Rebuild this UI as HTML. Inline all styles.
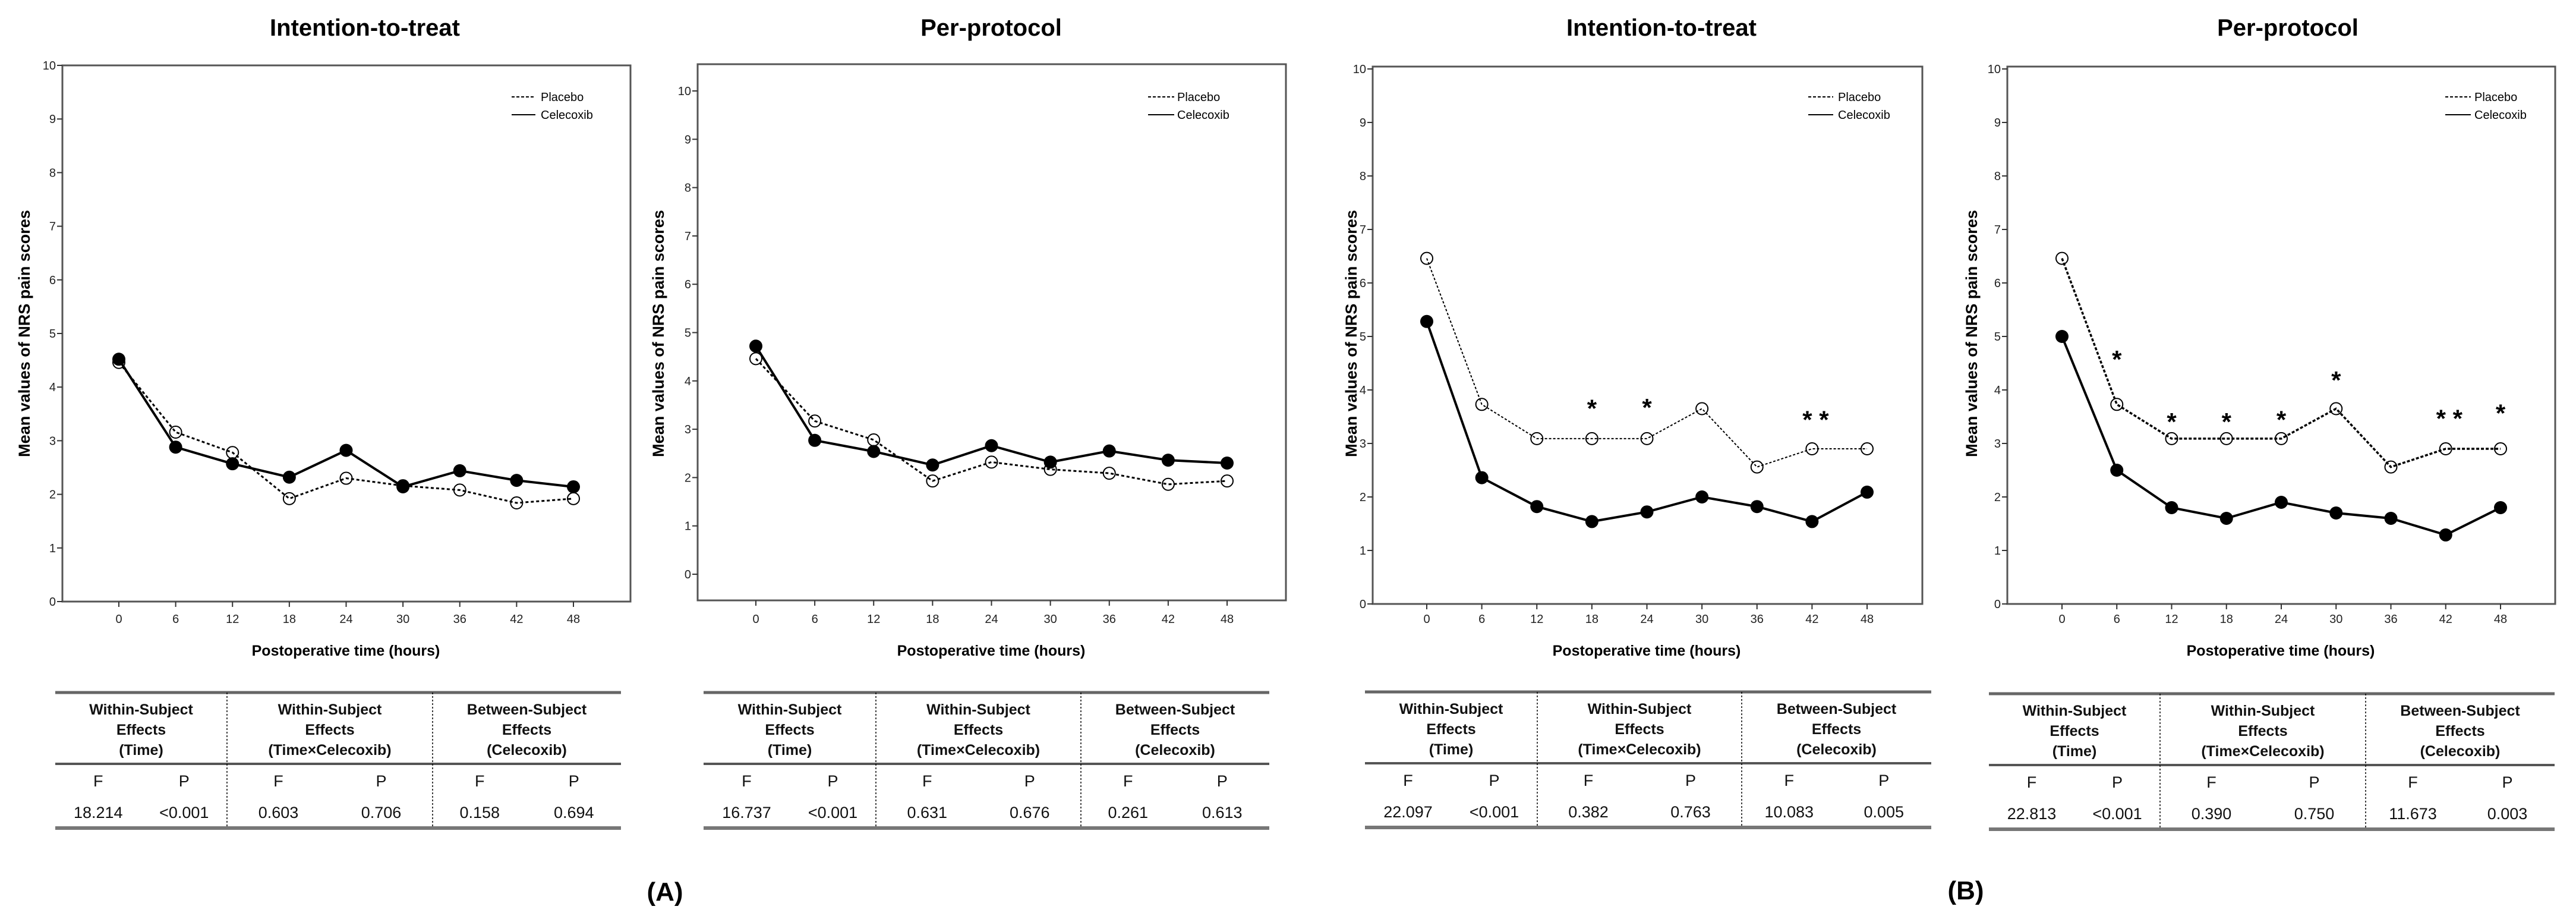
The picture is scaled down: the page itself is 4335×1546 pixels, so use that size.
<!DOCTYPE html>
<html><head><meta charset="utf-8"><title>NRS pain scores</title>
<style>html,body{margin:0;padding:0;background:#fff;}svg{display:block;}</style></head>
<body>
<svg id="fig" xmlns="http://www.w3.org/2000/svg" width="4335" height="1546" viewBox="0 0 4335 1546" font-family="Liberation Sans, Arial, sans-serif"></svg>
<script>
const hours = [0, 6, 12, 18, 24, 30, 36, 42, 48];
const yTicks = [0, 1, 2, 3, 4, 5, 6, 7, 8, 9, 10];

const ittA_placebo = [4.46, 3.16, 2.78, 1.92, 2.30, 2.16, 2.08, 1.84, 1.92];
const ittA_celecoxib = [4.52, 2.88, 2.57, 2.32, 2.82, 2.14, 2.44, 2.26, 2.14];
const ppA_placebo = [4.46, 3.17, 2.78, 1.93, 2.32, 2.17, 2.09, 1.86, 1.93];
const ppA_celecoxib = [4.72, 2.77, 2.54, 2.26, 2.66, 2.32, 2.55, 2.36, 2.30];
const ittB_placebo = [6.46, 3.73, 3.09, 3.09, 3.09, 3.65, 2.56, 2.90, 2.90];
const ittB_celecoxib = [5.28, 2.36, 1.82, 1.54, 1.72, 2.00, 1.82, 1.54, 2.09];
const ppB_placebo = [6.46, 3.73, 3.09, 3.09, 3.09, 3.65, 2.56, 2.90, 2.90];
const ppB_celecoxib = [5.00, 2.50, 1.80, 1.60, 1.90, 1.70, 1.60, 1.29, 1.80];

const ittB_starHours = [18, 24, 42];
const ittB_starLabels = ['*', '*', '* *'];
const ittB_starValues = [3.76, 3.78, 3.55];
const ppB_starHours = [6, 12, 18, 24, 30, 42, 48];
const ppB_starLabels = ['*', '*', '*', '*', '*', '* *', '*'];
const ppB_starValues = [4.68, 3.51, 3.51, 3.55, 4.29, 3.57, 3.67];

const tableHeaders = [['Within-Subject', 'Effects', '(Time)'], ['Within-Subject', 'Effects', '(Time\u00d7Celecoxib)'], ['Between-Subject', 'Effects', '(Celecoxib)']];
const ittA_stats = ['18.214', '<0.001', '0.603', '0.706', '0.158', '0.694'];
const ppA_stats = ['16.737', '<0.001', '0.631', '0.676', '0.261', '0.613'];
const ittB_stats = ['22.097', '<0.001', '0.382', '0.763', '10.083', '0.005'];
const ppB_stats = ['22.813', '<0.001', '0.390', '0.750', '11.673', '0.003'];

const NS = 'http://www.w3.org/2000/svg';
const svg = document.getElementById('fig');
function mk(tag, attrs, parent, txt) {
  const e = document.createElementNS(NS, tag);
  for (const k in attrs) e.setAttribute(k, attrs[k]);
  if (txt !== undefined) e.textContent = txt;
  (parent || svg).appendChild(e);
  return e;
}

function drawPanel(p) {
  const g = mk('g', {});
  
  
  const xs = h => p.x0 + (h - hours[0]) / (hours[hours.length - 1] - hours[0]) * (p.x48 - p.x0);
  const ys = v => p.y0 - v / 10 * (p.y0 - p.y10);
  const t = mk('text', {x: p.titleX, y: 60, 'font-size': 40, 'font-weight': 'bold', 'text-anchor': 'middle'}, g, p.title);
  
  
  const fr = mk('rect', {x: p.fl, y: p.ft, width: p.fr - p.fl, height: p.fb - p.ft, fill: 'none', stroke: '#555', 'stroke-width': 3}, g);
  
  
  yTicks.forEach(v => {
    const y = ys(v);
    const tk = mk('line', {x1: p.fl - 9, x2: p.fl, y1: y, y2: y, stroke: '#333', 'stroke-width': 2}, g);
    
    
    const tl = mk('text', {x: p.fl - 11, y: y + 7, 'font-size': 20, 'text-anchor': 'end', fill: '#222'}, g, String(v));
    
    
  });
  hours.forEach(h => {
    const x = xs(h);
    const tk = mk('line', {x1: x, x2: x, y1: p.fb, y2: p.fb + 9, stroke: '#333', 'stroke-width': 2}, g);
    
    
    const tl = mk('text', {x: x, y: 1048, 'font-size': 20, 'text-anchor': 'middle', fill: '#222'}, g, String(h));
    
    
  });
  const yt = mk('text', {x: 0, y: 0, 'font-size': 27, 'font-weight': 'bold', 'text-anchor': 'middle', transform: 'translate(' + (p.ytX + 10) + ',561) rotate(-90)'}, g, 'Mean values of NRS pain scores');
  
  
  const xt = mk('text', {x: p.xlabX, y: 1103, 'font-size': 25, 'font-weight': 'bold', 'text-anchor': 'middle'}, g, 'Postoperative time (hours)');
  
  
  // legend
  const lg = mk('g', {}, g);
  
  
  mk('line', {x1: p.lgx1, x2: p.lgx2, y1: 163, y2: 163, stroke: '#000', 'stroke-width': 2, 'stroke-dasharray': '5 3'}, lg);
  const l1 = mk('text', {x: p.lgt, y: 170, 'font-size': 20}, lg, 'Placebo');
  
  
  mk('line', {x1: p.lgx1, x2: p.lgx2, y1: 193, y2: 193, stroke: '#000', 'stroke-width': 2}, lg);
  const l2 = mk('text', {x: p.lgt, y: 200, 'font-size': 20}, lg, 'Celecoxib');
  
  
  // series
  const ptsP = hours.map((h, i) => xs(h) + ',' + ys(p.placebo[i])).join(' ');
  const ptsC = hours.map((h, i) => xs(h) + ',' + ys(p.celecoxib[i])).join(' ');
  const lp = mk('polyline', {points: ptsP, fill: 'none', stroke: '#000', 'stroke-width': p.pw, 'stroke-dasharray': p.pdash}, g);
  
  
  const lc = mk('polyline', {points: ptsC, fill: 'none', stroke: '#000', 'stroke-width': 4}, g);
  
  
  hours.forEach((h, i) => {
    const c = mk('circle', {cx: xs(h), cy: ys(p.placebo[i]), r: 10, fill: 'none', stroke: '#000', 'stroke-width': 2}, g);
    
    
  });
  hours.forEach((h, i) => {
    const c = mk('circle', {cx: xs(h), cy: ys(p.celecoxib[i]), r: 11, fill: '#000'}, g);
    
    
  });
  if (p.starHours) {
    p.starHours.forEach((h, i) => {
      const s = mk('text', {x: xs(h) + (p.starLabels[i].length > 1 ? 6 : 0), y: ys(p.starValues[i]) + 24, 'font-size': 42, 'font-weight': 'bold', 'text-anchor': 'middle'}, g, p.starLabels[i]);
      
      
    });
  }
}

function drawTable(tb) {
  const g = mk('g', {});
  
  
  const cols = [tb.l, tb.d1, tb.d2, tb.r];
  const top = tb.top, hl = top + 120, bot = top + 228;
  mk('line', {x1: tb.l, x2: tb.r, y1: top, y2: top, stroke: '#666', 'stroke-width': 5}, g);
  mk('line', {x1: tb.l, x2: tb.r, y1: hl, y2: hl, stroke: '#555', 'stroke-width': 4}, g);
  mk('line', {x1: tb.l, x2: tb.r, y1: bot, y2: bot, stroke: '#777', 'stroke-width': 6}, g);
  [tb.d1, tb.d2].forEach(x => mk('line', {x1: x, x2: x, y1: top, y2: bot, stroke: '#000', 'stroke-width': 1.5, 'stroke-dasharray': '3 3'}, g));
  for (let c = 0; c < 3; c++) {
    const a = cols[c], b = cols[c + 1], cx = (a + b) / 2;
    tableHeaders[c].forEach((line, k) => {
      const t = mk('text', {x: cx, y: top + 37 + k * 34, 'font-size': 25, 'font-weight': 'bold', 'text-anchor': 'middle', fill: '#111'}, g, line);
      
      
    });
    ['F', 'P'].forEach((lab, k) => {
      const x = a + (b - a) * (k ? 0.75 : 0.25);
      const t = mk('text', {x: x, y: top + 158, 'font-size': 27, 'text-anchor': 'middle', fill: '#111'}, g, lab);
      
      
      const v = mk('text', {x: x, y: top + 211, 'font-size': 27, 'text-anchor': 'middle', fill: '#111'}, g, tb.stats[c * 2 + k]);
      
      
    });
  }
}

drawPanel({name: 'itt-a', title: 'Intention-to-treat', titleX: 614, fl: 105, ft: 110, fr: 1061, fb: 1012, y0: 1012, y10: 110, x0: 200, x48: 965,
  lgx1: 861, lgx2: 901, lgt: 910, ytX: 40, xlabX: 582, placebo: ittA_placebo, celecoxib: ittA_celecoxib, pw: 3, pdash: '5 4'});
drawPanel({name: 'pp-a', title: 'Per-protocol', titleX: 1668, fl: 1174, ft: 108, fr: 2164, fb: 1010, y0: 966, y10: 153, x0: 1272, x48: 2065,
  lgx1: 1932, lgx2: 1976, lgt: 1981, ytX: 1107, xlabX: 1668, placebo: ppA_placebo, celecoxib: ppA_celecoxib, pw: 3, pdash: '5 4'});
drawPanel({name: 'itt-b', title: 'Intention-to-treat', titleX: 2796, fl: 2310, ft: 112, fr: 3235, fb: 1016, y0: 1016, y10: 116, x0: 2401, x48: 3142,
  lgx1: 3043, lgx2: 3085, lgt: 3093, ytX: 2273, xlabX: 2771, placebo: ittB_placebo, celecoxib: ittB_celecoxib, pw: 2, pdash: '4 3',
  starHours: ittB_starHours, starLabels: ittB_starLabels, starValues: ittB_starValues});
drawPanel({name: 'pp-b', title: 'Per-protocol', titleX: 3850, fl: 3378, ft: 112, fr: 4300, fb: 1016, y0: 1016, y10: 116, x0: 3470, x48: 4208,
  lgx1: 4115, lgx2: 4158, lgt: 4164, ytX: 3317, xlabX: 3838, placebo: ppB_placebo, celecoxib: ppB_celecoxib, pw: 3.5, pdash: '5 3',
  starHours: ppB_starHours, starLabels: ppB_starLabels, starValues: ppB_starValues});

drawTable({name: 'itt-a', l: 93, d1: 382, d2: 728, r: 1045, top: 1165, stats: ittA_stats});
drawTable({name: 'pp-a', l: 1184, d1: 1474, d2: 1819, r: 2136, top: 1165, stats: ppA_stats});
drawTable({name: 'itt-b', l: 2297, d1: 2587, d2: 2931, r: 3250, top: 1164, stats: ittB_stats});
drawTable({name: 'pp-b', l: 3347, d1: 3635, d2: 3981, r: 4299, top: 1167, stats: ppB_stats});

const la = mk('text', {x: 1119, y: 1515, 'font-size': 44, 'font-weight': 'bold', 'text-anchor': 'middle'}, svg, '(A)');


const lb = mk('text', {x: 3308, y: 1513, 'font-size': 44, 'font-weight': 'bold', 'text-anchor': 'middle'}, svg, '(B)');


</script>
</body></html>
